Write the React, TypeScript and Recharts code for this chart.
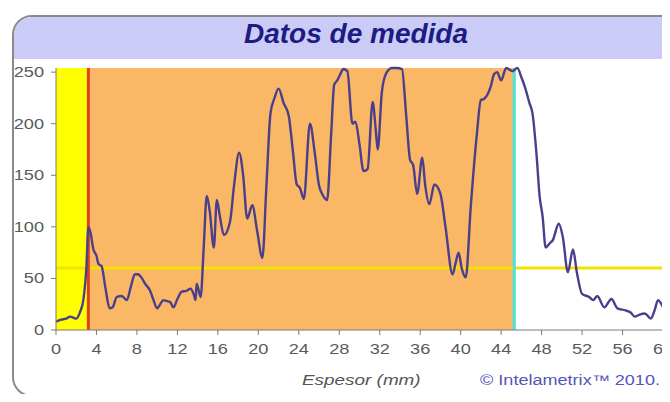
import { ComposedChart, Line, XAxis, YAxis, ReferenceArea, ReferenceLine } from 'recharts';

const espesor = [
  0, 0.5, 1.0, 1.4, 1.7, 2.0, 2.4, 2.7, 3.0, 3.2, 3.4, 3.7, 4.0, 4.2, 4.5, 4.9, 5.3, 5.6, 6.0, 6.5,
  7.0, 7.4, 7.8, 8.1, 8.5, 8.8, 9.3, 9.6, 10.0, 10.3, 10.6, 11.0, 11.3, 11.6, 12.0, 12.4, 12.9, 13.3, 13.6, 13.8,
  13.9, 14.3, 14.6, 14.9, 15.2, 15.6, 15.9, 16.2, 16.6, 17.2, 17.6, 18.1, 18.5, 18.9, 19.4, 19.9, 20.4, 20.8, 21.2, 21.6,
  22.0, 22.5, 23.0, 23.4, 23.8, 24.1, 24.5, 25.1, 25.6, 26.0, 26.3, 26.8, 27.2, 27.5, 27.8, 28.1, 28.4, 28.8, 29.3, 29.6,
  30.0, 30.4, 30.8, 31.3, 31.6, 31.8, 32.2, 32.6, 33.2, 33.7, 34.2, 34.6, 35.0, 35.3, 35.7, 36.2, 36.5, 36.9, 37.4, 38.0,
  38.5, 39.2, 39.5, 39.8, 40.1, 40.5, 41.0, 41.6, 42.0, 42.3, 43.0, 43.3, 43.6, 44.0, 44.5, 45.1, 45.6, 46.0, 46.4, 46.8,
  47.1, 47.5, 47.8, 48.1, 48.4, 48.8, 49.1, 49.7, 50.1, 50.6, 51.1, 51.5, 52.0, 52.7, 53.1, 53.5, 54.2, 54.9, 55.5, 56.3,
  56.8, 57.2, 57.7, 58.2, 58.8, 59.2, 59.5, 60.0,
];
const medida = [
  8, 10, 11, 13, 12, 11, 18, 29, 60, 100, 95, 78, 72, 64, 62, 40, 21, 22, 32, 33,
  29, 42, 54, 54, 50, 45, 38, 30, 21, 25, 29, 28, 27, 22, 30, 37, 38, 40, 35, 29,
  45, 32, 80, 130, 115, 80, 126, 110, 92, 105, 140, 172, 150, 108, 121, 95, 70, 140, 210, 225,
  234, 220, 208, 175, 141, 138, 127, 200, 170, 140, 132, 126, 190, 238, 242, 248, 253, 251, 200, 202,
  180, 154, 156, 221, 195, 175, 230, 248, 254, 254, 253, 210, 165, 160, 132, 167, 140, 122, 141, 132,
  100, 54, 65, 75, 60, 51, 120, 190, 223, 224, 237, 248, 250, 242, 254, 251, 254, 245, 234, 220,
  210, 170, 130, 110, 80, 84, 87, 103, 90, 56, 78, 55, 35, 32, 29, 33, 22, 30, 21, 19,
  17, 13, 15, 16, 11, 20, 29, 22,
];

const xTicks = [0, 4, 8, 12, 16, 20, 24, 28, 32, 36, 40, 44, 48, 52, 56, 60];
const yTicks = [0, 50, 100, 150, 200, 250];

const inicio = 3.2; // red marker
const fin = 45.3; // cyan marker
const umbral = 60;

const data = espesor.map((x, i) => ({ x, y: medida[i] }));

const font = '"Liberation Sans", Arial, sans-serif';

// the original is a bit stretched sideways, so widen the small labels
const WideTick = (props: any) => {
  const { x, y, payload, textAnchor, vertical } = props;
  return (
    <g transform={`translate(${x},${y}) scale(1.3,1)`}>
      <text
        x={0} y={0} dy={vertical ? '0.355em' : '0.71em'} textAnchor={textAnchor}
        fill="#5a5a5a" fontSize={14} fontFamily={font}
      >
        {payload.value}
      </text>
    </g>
  );
};

export default function App() {
  return (
    <div style={{ position: 'relative', width: 670, height: 402, margin: -8, overflow: 'hidden', background: '#fff', fontFamily: font }}>
      {/* frame */}
      <div
        style={{
          position: 'absolute', left: 12, top: 15, width: 680, height: 382,
          border: '2px solid #8a8a8a', borderRadius: 20, overflow: 'hidden', boxSizing: 'border-box',
        }}
      >
        <div style={{ height: 42, background: '#cbcbf7' }} />
      </div>
      <div
        style={{
          position: 'absolute', left: 11, width: 690, top: 18, textAlign: 'center',
          fontSize: 28, fontWeight: 'bold', fontStyle: 'italic', color: '#1c1c82',
        }}
      >
        Datos de medida
      </div>
      <div style={{ position: 'absolute', left: 0, top: 0 }}>
        <ComposedChart width={670} height={402} data={data} margin={{ top: 68, right: 7, bottom: 42, left: 16 }}>
          <XAxis
            type="number" dataKey="x" domain={[0, 60]} ticks={xTicks} interval={0}
            height={30} tickSize={5} tickMargin={9}
            stroke="#7a7a7a" tick={<WideTick vertical={false} />}
          />
          <YAxis
            type="number" domain={[0, 250]} ticks={yTicks} interval={0}
            width={40} tickSize={5} tickMargin={7}
            stroke="#7a7a7a" tick={<WideTick vertical />}
          />
          <ReferenceArea x1={0} x2={inicio} fill="#ffff00" fillOpacity={1} ifOverflow="visible" />
          <ReferenceArea x1={inicio} x2={fin} fill="#fab765" fillOpacity={1} ifOverflow="visible" />
          <ReferenceLine y={umbral} stroke="#f2e400" strokeWidth={3} />
          <ReferenceLine x={inicio} stroke="#e2401c" strokeWidth={3} />
          <ReferenceLine x={fin} stroke="#44e4dc" strokeWidth={3} />
          <Line
            type="monotone" dataKey="y" stroke="#4a3f8c" strokeWidth={2.4}
            dot={false} isAnimationActive={false}
          />
        </ComposedChart>
      </div>
      <div
        style={{
          position: 'absolute', left: 302, top: 372, fontSize: 14, fontStyle: 'italic', color: '#555',
          transform: 'scaleX(1.35)', transformOrigin: 'left top', whiteSpace: 'nowrap',
        }}
      >
        Espesor (mm)
      </div>
      <div
        style={{
          position: 'absolute', left: 480, top: 372, fontSize: 14, color: '#5555b5',
          transform: 'scaleX(1.29)', transformOrigin: 'left top', whiteSpace: 'nowrap',
        }}
      >
        © Intelametrix™ 2010.
      </div>
    </div>
  );
}
